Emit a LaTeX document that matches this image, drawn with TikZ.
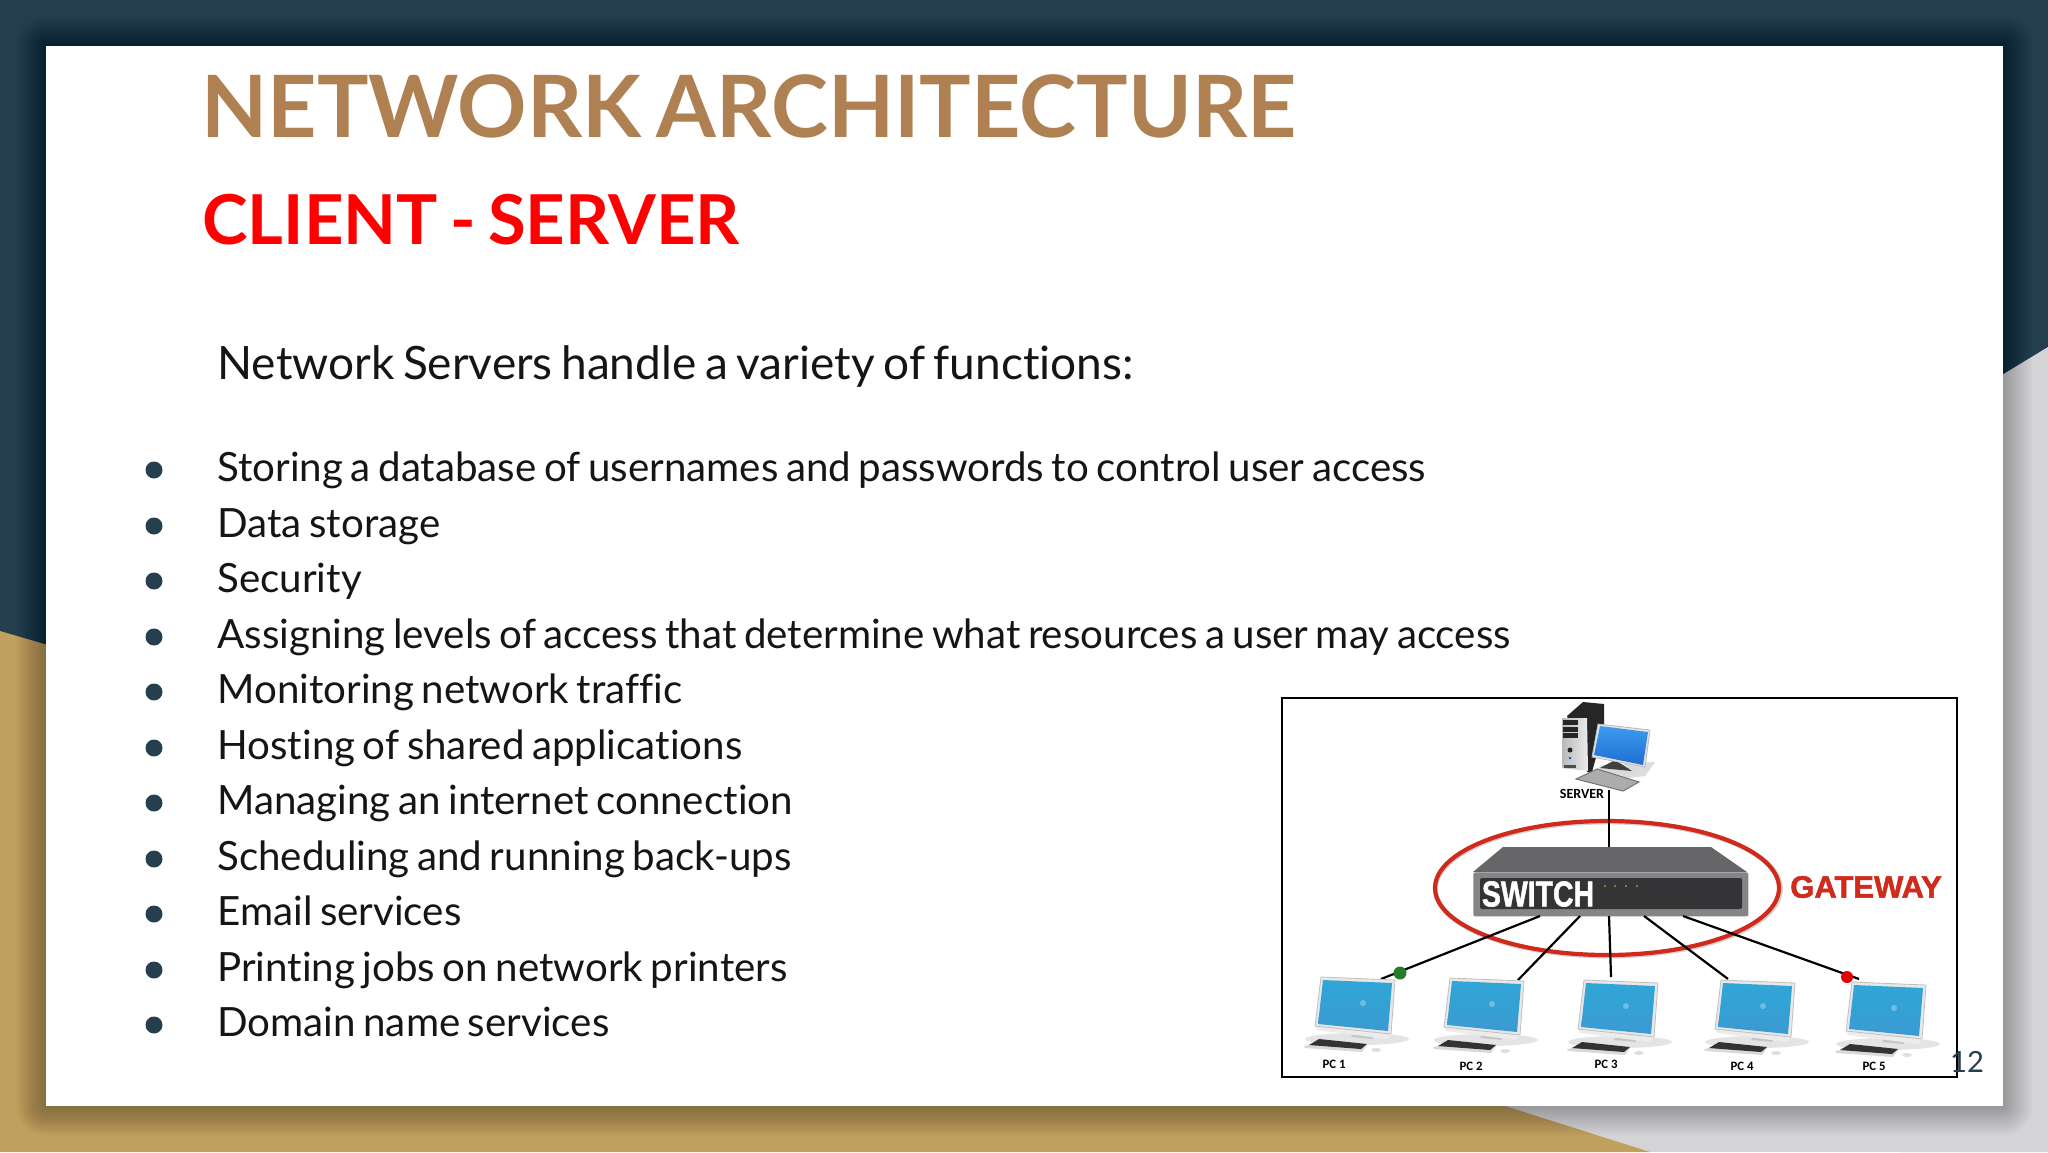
\documentclass[tikz,border=0pt]{standalone}
\usepackage{fontspec}
\setmainfont{Lato}[WordSpace=0.73,Ligatures=NoCommon]
\newfontfamily\libheavy{Liberation Sans}[UprightFont=* Bold,FakeBold=1.6]
\newfontfamily\carl{Carlito}
\definecolor{navy}{HTML}{253E4D}
\definecolor{gold}{HTML}{BFA05C}
\definecolor{paleg}{HTML}{D4D3D5}
\definecolor{titlec}{HTML}{AE8052}
\definecolor{bodyc}{HTML}{151515}
\definecolor{bulletc}{HTML}{263F4E}
\definecolor{ringred}{HTML}{CF2A1C}
\definecolor{swgray}{HTML}{666668}
\definecolor{swstrip}{HTML}{858587}
\definecolor{swdark}{HTML}{343436}
\definecolor{scrtop}{HTML}{2FA6D6}
\definecolor{scrbot}{HTML}{3B9AD2}
\definecolor{srvtop}{HTML}{3C9BEE}
\definecolor{srvbot}{HTML}{1F6FD0}
\tikzset{
  x=0.5pt,y=-0.5pt,
  bodytext/.style={anchor=base west,inner sep=0,text=bodyc,font=\fontsize{20.15}{24}\selectfont},
  dot/.style={circle,fill=bulletc,minimum size=8.5pt,inner sep=0},
  wire/.style={draw=black,line width=1.1pt},
  pclabel/.style={inner sep=0,text=black,font=\carl\bfseries\fontsize{6.4}{7}\selectfont},
  pcunit/.pic={
    \fill[gray!28,opacity=.75] (36,62) ellipse [x radius=52,y radius=6];
    \fill[gray!45] (34,54) -- (49,56) -- (52,62) -- (30,60) -- cycle;
    \fill[gray!15] (-6,49) -- (70,57) -- (66,62) -- (-4,53) -- cycle;
    \fill[gray!18,draw=gray!50,line width=.4pt] (0,0) -- (74,3) -- (70,57) -- (-6,49) -- cycle;
    \shade[top color=scrtop,bottom color=scrbot] (2,3) -- (71,6) -- (67,54) -- (-3,47) -- cycle;
    \fill[white,opacity=.3] (42,26) circle [radius=3];
    \fill[gray!30] (-17,69) -- (-12,68) -- (46,68) -- (41,75) -- (-16,71) -- cycle;
    \fill[black!80] (-12,68) -- (-2,62) -- (46,67) -- (40,72) -- cycle;
    \fill[gray!25] (55,73) ellipse [x radius=5,y radius=2];
  }
}
\begin{document}
\begin{tikzpicture}
\useasboundingbox (0,0) rectangle (2048,1152);
\clip (0,0) rectangle (2048,1152);
% backdrop
\fill[navy] (0,0) rectangle (2048,1152);
\fill[paleg] (2048,347) -- (1900,437) -- (1900,1152) -- (2048,1152) -- cycle;
\fill[paleg] (1000,1080) rectangle (2048,1152);
\fill[gold] (0,631) -- (200,690) -- (200,1000) -- (1300,1041) -- (1650,1152) -- (0,1152) -- cycle;
% card shadow
\foreach \i in {1,...,30}{
  \fill[black,opacity=.008,rounded corners=\i*0.5] ({46-\i},{46-\i}) rectangle ({2003+\i},{1106+\i});
}
% card
\fill[white] (46,46) rectangle (2003,1106);
% headings
\node[anchor=base west,inner sep=0,text=titlec,font=\bfseries\fontsize{43}{50}\selectfont] (title) at (201,137) {NETWORK ARCHITECTURE};
\node[anchor=base west,inner sep=0,text=red,font=\bfseries\fontsize{34.4}{40}\selectfont] (subtitle) at (202,244) {CLIENT - SERVER};
\node[bodytext,font=\fontsize{23}{26}\selectfont] (intro) at (217,379) {Network Servers handle a variety of functions:};
% list
\foreach \n/\yy/\t in {1/470/{Storing a database of usernames and passwords to control user access},
  2/526/{Data storage},3/581/{Security},
  4/637/{Assigning levels of access that determine what resources a user may access},
  5/692/{Monitoring network traffic},6/748/{Hosting of shared applications},
  7/803/{Managing an internet connection},8/859/{Scheduling and running back-ups},
  9/914/{Email services},10/970/{Printing jobs on network printers},11/1025/{Domain name services}}{
  \node[dot] (b\n) at (154,\yy) {};
  \node[bodytext] (t\n) at (217,{\yy+11.5}) {\t};
}
% figure frame
\node[draw=black,line width=.8pt,fill=white,inner sep=0,minimum width=337.5pt,minimum height=189.5pt,anchor=north west] (frame) at (1281,697) {};
% server
\fill[paleg,opacity=.8] (1600,765) -- (1655,762) -- (1645,776) -- (1610,780) -- cycle;
\fill[black!85] (1567,716) -- (1583,702) -- (1604,704) -- (1604,728) -- (1592,772) -- (1587,772) -- cycle;
\shade[left color=gray!55,right color=gray!15] (1562,718) -- (1587,718) -- (1588,771) -- (1562,768) -- cycle;
\fill[black!85] (1563,720) rectangle (1578,725);
\fill[black!85] (1563,727) rectangle (1578,732);
\fill[black!85] (1563,733) rectangle (1578,738);
\fill[black!85] (1570,750) circle [radius=2.5];
\fill[blue!70!cyan] (1570,758) circle [radius=1.3];
\fill[black!70] (1564,765) rectangle (1576,768);
\fill[gray!30] (1617,770) ellipse [x radius=21,y radius=5];
\fill[black!75] (1615,760) -- (1632,771) -- (1600,768) -- cycle;
\fill[gray!20,draw=gray!55,line width=.4pt] (1598,724) -- (1650,730) -- (1645,767) -- (1592,757) -- cycle;
\shade[top color=srvtop,bottom color=srvbot] (1600,726) -- (1648,732) -- (1643,765) -- (1594,755) -- cycle;
\fill[gray!65,draw=black!55,line width=.5pt] (1576,779) -- (1597,769) -- (1639,782) -- (1623,791) -- cycle;
\node[pclabel,font=\carl\bfseries\fontsize{7}{8}\selectfont] (srvlabel) at (1582,794) {SERVER};
% gateway ring and switch
\draw[gray!35,line width=2.4pt] (1608,889) ellipse [x radius=172.5,y radius=67];
\draw[ringred,line width=2.1pt] (1607,888) ellipse [x radius=172,y radius=67];
\fill[swgray] (1503,847) -- (1711,847) -- (1747,872) -- (1473,872) -- cycle;
\node[fill=swstrip,rounded corners=1pt,inner sep=0,minimum width=137.5pt,minimum height=22pt,anchor=north west] (switch) at (1473,872) {};
\fill[swdark,rounded corners=1pt] (1480,878) rectangle (1742,909);
\node[inner sep=0,text=white,font=\libheavy\fontsize{18}{20}\selectfont,xscale=.79,transform shape] (swlabel) at (1538,894) {SWITCH};
\foreach \xx in {1605,1615,1626,1637}{\fill[yellow!70!green] (\xx,886) circle [radius=.9];}
\foreach \xx in {1605,1615,1626,1637,1648,1659,1670,1680}{\fill[green!30!black] (\xx,898) circle [radius=.9];}
\node[inner sep=0,text=ringred,font=\libheavy\fontsize{15.5}{18}\selectfont] (gateway) at (1866,887) {GATEWAY};
% ports
\coordinate (srvport) at (1609,790);
\coordinate (swtop) at (1609,847);
\coordinate (sw1) at (1540,916);
\coordinate (sw2) at (1580,916);
\coordinate (sw3) at (1609,916);
\coordinate (sw4) at (1644,916);
\coordinate (sw5) at (1683,916);
\coordinate (pc1port) at (1381,979);
\coordinate (pc2port) at (1518,980);
\coordinate (pc3port) at (1611,977);
\coordinate (pc4port) at (1728,979);
\coordinate (pc5port) at (1859,979);
\draw[wire] (srvport) -- (swtop);
\foreach \k in {1,...,5}{\draw[wire] (sw\k) -- (pc\k port);}
% PCs
\pic at (1321,977) {pcunit};
\pic at (1450,978) {pcunit};
\pic at (1584,980) {pcunit};
\pic at (1721,980) {pcunit};
\pic at (1852,982) {pcunit};
\node[circle,fill=green!40!black!85,minimum size=6.5pt,inner sep=0] (gdot) at (1400,973) {};
\node[circle,fill=red!90!black,minimum size=6pt,inner sep=0] (rdot) at (1847,977) {};
\node[pclabel] (l1) at (1334,1064) {PC 1};
\node[pclabel] (l2) at (1471,1066) {PC 2};
\node[pclabel] (l3) at (1606,1064) {PC 3};
\node[pclabel] (l4) at (1742,1066) {PC 4};
\node[pclabel] (l5) at (1874,1066) {PC 5};
% page number
\node[anchor=base,inner sep=0,text=bulletc,font=\fontsize{14.6}{16}\selectfont] (pageno) at (1967,1072) {12};
\end{tikzpicture}
\end{document}
